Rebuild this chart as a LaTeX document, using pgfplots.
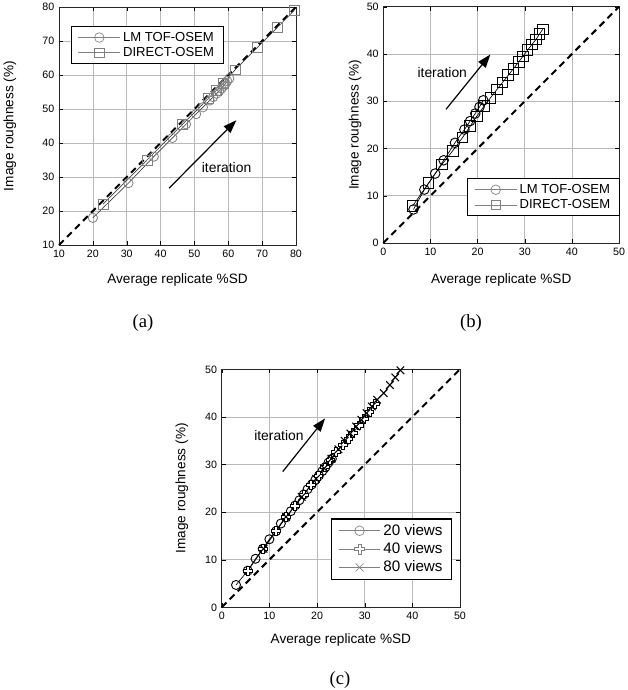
\documentclass[border=0pt]{standalone}
\usepackage{fontspec}
\setmainfont{Liberation Sans}
\newfontfamily\capfont{Liberation Serif}
\usepackage{pgfplots}
\pgfplotsset{compat=1.18}
\usetikzlibrary{arrows.meta}

% hollow greek cross
\pgfdeclareplotmark{hplus}{%
  \pgfpathmoveto{\pgfqpoint{0.35\pgfplotmarksize}{\pgfplotmarksize}}%
  \pgfpathlineto{\pgfqpoint{0.35\pgfplotmarksize}{0.35\pgfplotmarksize}}%
  \pgfpathlineto{\pgfqpoint{\pgfplotmarksize}{0.35\pgfplotmarksize}}%
  \pgfpathlineto{\pgfqpoint{\pgfplotmarksize}{-0.35\pgfplotmarksize}}%
  \pgfpathlineto{\pgfqpoint{0.35\pgfplotmarksize}{-0.35\pgfplotmarksize}}%
  \pgfpathlineto{\pgfqpoint{0.35\pgfplotmarksize}{-\pgfplotmarksize}}%
  \pgfpathlineto{\pgfqpoint{-0.35\pgfplotmarksize}{-\pgfplotmarksize}}%
  \pgfpathlineto{\pgfqpoint{-0.35\pgfplotmarksize}{-0.35\pgfplotmarksize}}%
  \pgfpathlineto{\pgfqpoint{-\pgfplotmarksize}{-0.35\pgfplotmarksize}}%
  \pgfpathlineto{\pgfqpoint{-\pgfplotmarksize}{0.35\pgfplotmarksize}}%
  \pgfpathlineto{\pgfqpoint{-0.35\pgfplotmarksize}{0.35\pgfplotmarksize}}%
  \pgfpathlineto{\pgfqpoint{-0.35\pgfplotmarksize}{\pgfplotmarksize}}%
  \pgfpathclose
  \pgfusepathqfillstroke}

\tikzset{
  diag/.style={black, line width=1.5pt, dash pattern=on 5pt off 3.5pt},
  itarrow/.style={black, line width=0.9pt, -{Triangle[length=10pt, width=7pt]}},
}

\pgfplotsset{
  panel/.style={
    scale only axis,
    grid=major,
    grid style={gray!55, line width=0.5pt},
    axis line style={black!85, line width=0.6pt},
    tick align=inside,
    major tick length=3pt,
    tick style={black},
    ticklabel style={font=\fontsize{8}{9}\selectfont},
    /pgf/number format/assume math mode=true,
    label style={font=\fontsize{10.2}{12}\selectfont},
    legend style={font=\fontsize{9.8}{11}\selectfont, draw=black, line width=0.9pt,
      fill=white, inner xsep=5pt, inner ysep=2pt, row sep=-1pt},
    legend cell align=left,
    legend image code/.code={\draw[mark repeat=2,mark phase=2] plot coordinates {(0cm,0cm) (0.55cm,0cm) (1.1cm,0cm)};},
    clip=false,
  },
}

\begin{document}
\begin{tikzpicture}
\useasboundingbox (0,0) rectangle (471pt,517.5pt);

% ---------- (a) ----------
\begin{axis}[panel,
  at={(44.25pt,333.75pt)}, anchor=south west,
  width=177.75pt, height=178.5pt,
  xmin=10, xmax=80, ymin=10, ymax=80,
  xtick={10,20,...,80}, ytick={10,20,...,80},
  xlabel={Average replicate \%SD}, ylabel={Image roughness (\%)},
  xlabel style={at={(axis description cs:0.5,-0.147)}, anchor=center},
  ylabel style={at={(axis description cs:-0.207,0.5)}, anchor=center},
  legend style={at={(axis description cs:0.05,0.92)}, anchor=north west},
]
\addlegendimage{gray, line width=0.5pt, mark=o, mark size=3.6pt, mark options={fill=white}}
\addlegendimage{gray, line width=0.5pt, mark=square, mark size=3.6pt, mark options={fill=white}}
\addplot[diag, forget plot] coordinates {(10,10) (80,80)};
\addplot[black!75, line width=0.5pt, mark=o, mark size=3.5pt, forget plot,
  mark options={draw=gray, fill=white, line width=0.6pt}] coordinates {
  (20,18) (30.5,28.2) (38,36) (43.5,41.5) (47.5,45.5) (50.5,48.5) (52.5,50.5)
  (54.5,52.5) (55.5,53.5) (56.5,54.5) (57.3,55.3) (58,56) (58.6,56.8)
  (59.2,57.5) (59.7,58.2) (60.3,59)
};
\addplot[black!75, line width=0.5pt, mark=square, mark size=3.7pt, forget plot,
  mark options={draw=gray, fill=white, line width=0.6pt}] coordinates {
  (23,22) (36,35) (46.5,45.5) (54,53) (56.5,55.5) (58.5,57.5) (62,61.5)
  (68.5,68) (74.5,74) (79.5,79)
};
\legend{LM TOF-OSEM, DIRECT-OSEM}
\draw[itarrow] (axis cs:42.5,26.7) -- (axis cs:62.4,46.7);
\node[font=\fontsize{10.4}{12}\selectfont] at (axis cs:59.5,32.8) {iteration};
\end{axis}

% ---------- (b) ----------
\begin{axis}[panel,
  at={(287.5pt,335.25pt)}, anchor=south west,
  width=176.8pt, height=177.2pt,
  xmin=0, xmax=50, ymin=0, ymax=50,
  xtick={0,10,...,50}, ytick={0,10,...,50},
  xlabel={Average replicate \%SD}, ylabel={Image roughness (\%)},
  xlabel style={at={(axis description cs:0.5,-0.157)}, anchor=center},
  ylabel style={at={(axis description cs:-0.12,0.5)}, anchor=center},
  legend style={at={(axis description cs:0.356,0.274)}, anchor=north west},
]
\addlegendimage{gray, line width=0.5pt, mark=o, mark size=3.6pt, mark options={fill=white}}
\addlegendimage{gray, line width=0.5pt, mark=square, mark size=3.6pt, mark options={fill=white}}
\addplot[diag, forget plot] coordinates {(0,0) (50,50)};
\addplot[black, line width=0.5pt, mark=o, mark size=3.6pt, forget plot,
  mark options={fill=white, line width=0.7pt}] coordinates {
  (6.4,7.1) (8.7,11.3) (11,14.7) (12.8,17.5) (15.2,21.2) (17.2,24)
  (18.4,25.8) (19.5,27.4) (20.4,28.8) (21.2,30.2)
};
\addplot[black, line width=0.5pt, mark=square, mark size=4pt, forget plot,
  mark options={fill=white, line width=0.7pt}] coordinates {
  (6.2,7.8) (9.6,12.7) (12.4,16.6) (14.7,19.5) (16.8,22.3) (18.4,24.7)
  (19.8,26.8) (21.4,29) (22.7,30.7) (24.1,32.5) (25.3,34) (26.5,35.5)
  (27.6,36.9) (28.7,38.3) (29.6,39.5) (30.6,40.8) (31.5,42) (32.4,43.1)
  (33.1,44.2) (33.8,45.2)
};
\legend{LM TOF-OSEM, DIRECT-OSEM}
\draw[itarrow] (axis cs:13.3,28.3) -- (axis cs:22.7,39.9);
\node[font=\fontsize{10.4}{12}\selectfont] at (axis cs:12.5,36) {iteration};
\end{axis}

% ---------- (c) ----------
\begin{axis}[panel,
  at={(166.3pt,62pt)}, anchor=south west,
  width=178.7pt, height=178.5pt,
  xmin=0, xmax=50, ymin=0, ymax=50,
  xtick={0,10,...,50}, ytick={0,10,...,50},
  xlabel={Average replicate \%SD}, ylabel={Image roughness (\%)},
  xlabel style={at={(axis description cs:0.5,-0.137)}, anchor=center},
  ylabel style={at={(axis description cs:-0.167,0.5)}, anchor=center},
  legend style={at={(axis description cs:0.459,0.374)}, anchor=north west,
    font=\fontsize{11.4}{13}\selectfont, row sep=0pt},
]
\addlegendimage{gray, line width=0.5pt, mark=o, mark size=3.6pt, mark options={fill=white}}
\addlegendimage{gray, line width=0.5pt, mark=hplus, mark size=3.6pt, mark options={fill=white}}
\addlegendimage{gray, line width=0.5pt, mark=x, mark size=4.2pt}
\addplot[diag, forget plot] coordinates {(0,0) (50,50)};
\addplot[black, line width=0.5pt, mark=o, mark size=3.4pt, forget plot,
  mark options={fill=white, line width=0.7pt}] coordinates {
  (3,4.7) (5.45,7.7) (7.1,10.2) (8.6,12.3) (10,14.3) (11.4,16) (12.4,17.6)
  (13.5,18.9) (14.5,20.2) (15.4,21.4) (16.3,22.5) (17.2,23.7) (18,24.8)
  (18.9,25.8) (19.6,26.7) (20.4,27.7) (21.1,28.6) (21.8,29.5) (22.4,30.4)
  (23.1,31.2)
};
\addplot[black, line width=0.5pt, mark=hplus, mark size=3.3pt, forget plot,
  mark options={fill=white, line width=0.7pt}] coordinates {
  (5.5,7.7) (8.7,12.3) (11.4,16) (13.5,19) (15.4,21.3) (17.2,23.7)
  (18.8,25.7) (20.3,27.6) (21.6,29.4) (22.8,31) (24,32.6) (25.5,34.1)
  (26.6,35.4) (27.6,36.7) (28.8,38.2) (29.9,39.6) (31,41.1) (32.2,42.7)
};
\addplot[black, line width=0.5pt, mark=x, mark size=4pt, forget plot,
  mark options={line width=0.8pt}] coordinates {
  (8.8,12.3) (13.5,19) (16.8,23.2) (19.8,27) (21.5,29.2) (23,31.2)
  (24.5,33.2) (25.8,35) (27,36.5) (28.2,38) (29.3,39.4) (30.4,40.8)
  (31.5,42.2) (32.6,43.6) (34,45) (35.3,46.7) (36.4,48.3) (37.5,49.8)
};
\legend{20 views, 40 views, 80 views}
\draw[itarrow] (axis cs:12.8,28.5) -- (axis cs:21.7,39.7);
\node[font=\fontsize{10.4}{12}\selectfont] at (axis cs:12,36) {iteration};
\end{axis}

% captions
\node[font=\capfont\fontsize{14}{16}\selectfont] at (107.25pt,275.25pt) {(a)};
\node[font=\capfont\fontsize{14}{16}\selectfont] at (353.25pt,275.25pt) {(b)};
\node[font=\capfont\fontsize{14}{16}\selectfont] at (255pt,7.5pt) {(c)};
\end{tikzpicture}
\end{document}
